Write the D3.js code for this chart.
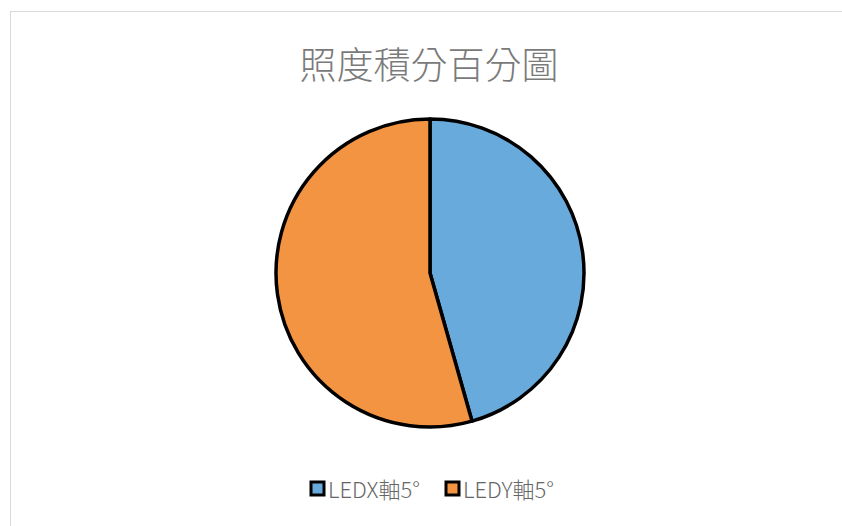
<!DOCTYPE html>
<html>
<head>
<meta charset="utf-8">
<script src="https://cdn.jsdelivr.net/npm/d3@7"></script>
<style>
  body { margin: 0; background: #fff; }
</style>
</head>
<body>
<div id="chart"></div>
<script>
// Chart data
const title = '照度積分百分圖'
const categories = ['LEDX軸5°', 'LEDY軸5°']
const values = [45.6, 54.4]
const colors = ['#69aadc', '#f29441']

const width = 842
const height = 526

const svg = d3.select('#chart').append('svg').attr('width', width).attr('height', height)

// Chart border
svg
  .append('rect')
  .attr('x', 10.5)
  .attr('y', 11.5)
  .attr('width', 840)
  .attr('height', 520)
  .attr('fill', 'white')
  .attr('stroke', '#d9d9d9')
  .attr('stroke-width', 1)

// Title
svg
  .append('text')
  .attr('x', 429)
  .attr('y', 79)
  .attr('text-anchor', 'middle')
  .attr('font-family', '"Noto Sans CJK TC", sans-serif')
  .attr('font-weight', 300)
  .attr('font-size', '37px')
  .attr('fill', '#7a7a7a')
  .text(title)

// Pie
const cx = 430
const cy = 273
const radius = 154

const pie = d3.pie().sort(null).value(d => d)
const arc = d3.arc().innerRadius(0).outerRadius(radius)

const g = svg.append('g').attr('transform', `translate(${cx},${cy})`)

g.selectAll('path')
  .data(pie(values))
  .join('path')
  .attr('d', arc)
  .attr('fill', (d, i) => colors[i])
  .attr('stroke', 'black')
  .attr('stroke-width', 3.5)
  .attr('stroke-linejoin', 'round')

// Legend
const legendX = [311, 446]
const legend = svg
  .append('g')
  .selectAll('g')
  .data(categories)
  .join('g')
  .attr('transform', (d, i) => `translate(${legendX[i]},490)`)

legend
  .append('rect')
  .attr('x', 0)
  .attr('y', -8)
  .attr('width', 13)
  .attr('height', 13)
  .attr('fill', (d, i) => colors[i])
  .attr('stroke', 'black')
  .attr('stroke-width', 3)

legend
  .append('text')
  .attr('x', 17)
  .attr('y', 7.5)
  .attr('font-family', '"Noto Sans CJK TC", sans-serif')
  .attr('font-weight', 300)
  .attr('font-size', '22px')
  .attr('fill', '#666666')
  .text(d => d)
</script>
</body>
</html>
